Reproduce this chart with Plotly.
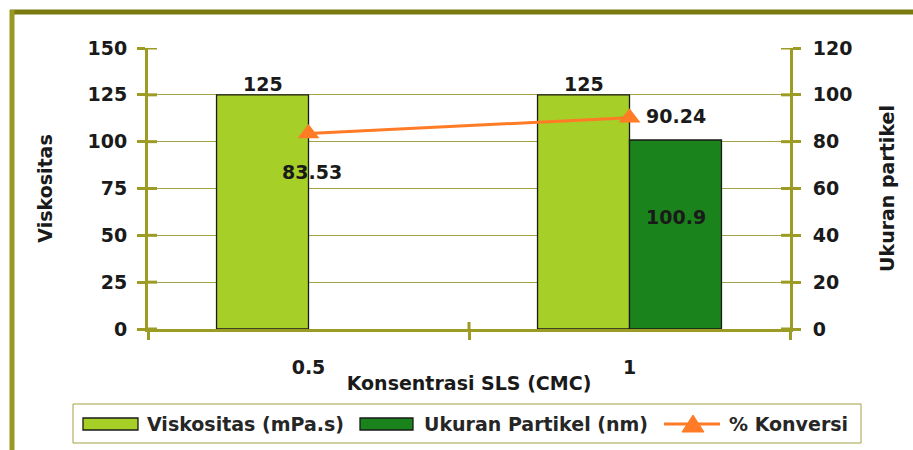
import plotly.graph_objects as go

# Data
konsentrasi = ["0.5", "1"]
viskositas = [125, 125]
ukuran_partikel = [None, 100.9]
konversi = [83.53, 90.24]
legend_labels = ["Viskositas (mPa.s)", "Ukuran Partikel (nm)", "% Konversi"]
y1_ticks = [0, 25, 50, 75, 100, 125, 150]
y2_ticks = [0, 20, 40, 60, 80, 100, 120]

OLIVE = "#9c9c24"
GRID = "#a3a348"
FONT = "DejaVu Sans"
TXT = "#1a1a1a"
C_VISK = "#a6cf28"
C_UKUR = "#1a831c"
C_KONV = "#ff7b25"

# Plot area in pixels (used for placing the frame and the legend)
W, H = 913, 450
L, R, T, B = 148, 123, 48, 121
PW, PH = W - L - R, H - T - B


def px(x):
    return (x - L) / PW


def py(y):
    return (H - B - y) / PH


fig = go.Figure()

fig.add_trace(go.Bar(
    x=konsentrasi, y=viskositas, name=legend_labels[0],
    marker=dict(color=C_VISK, line=dict(color="#1a1a1a", width=1.3)),
))
fig.add_trace(go.Bar(
    x=konsentrasi, y=ukuran_partikel, name=legend_labels[1],
    marker=dict(color=C_UKUR, line=dict(color="#1a1a1a", width=1.3)),
))
fig.add_trace(go.Scatter(
    x=konsentrasi, y=konversi, name=legend_labels[2], yaxis="y2",
    mode="lines+markers",
    line=dict(color=C_KONV, width=3),
    marker=dict(symbol="triangle-up", size=19, color=C_KONV),
    cliponaxis=False,
))

lab_font = dict(family=FONT, size=19, color=TXT, weight="bold")

# Value labels (category index used for x)
annotations = []
for i, v in enumerate(viskositas):
    annotations.append(dict(
        x=i, y=v, xref="x", yref="y", text=str(v), showarrow=False,
        xshift=-46, yshift=11, font=lab_font,
    ))
for i, v in enumerate(ukuran_partikel):
    if v is not None:
        annotations.append(dict(
            x=i, y=v, xref="x", yref="y", text=str(v), showarrow=False,
            xshift=46, yshift=-77, font=lab_font,
        ))
label_shift = [(3, -39), (46, 2)]
for i, (v, (dx, dy)) in enumerate(zip(konversi, label_shift)):
    annotations.append(dict(
        x=i, y=v, xref="x", yref="y2", text=f"{v:.2f}", showarrow=False,
        xshift=dx, yshift=dy, font=lab_font,
    ))

# Outer frame
shapes = [
    dict(type="line", xref="paper", yref="paper", x0=px(10), x1=px(930),
         y0=py(12), y1=py(12), line=dict(color="#7a7a10", width=5)),
    dict(type="line", xref="paper", yref="paper", x0=px(12), x1=px(12),
         y0=py(10), y1=py(460), line=dict(color="#999922", width=5)),
]

# Tick marks continue across the value axes into the plot area
for t in y1_ticks:
    shapes.append(dict(type="line", xref="paper", yref="y", x0=0, x1=px(L + 9),
                       y0=t, y1=t, line=dict(color=OLIVE, width=3)))
for t in y2_ticks:
    shapes.append(dict(type="line", xref="paper", yref="y2", x0=1,
                       x1=px(L + PW - 9), y0=t, y1=t,
                       line=dict(color=OLIVE, width=3)))
shapes.append(dict(type="line", xref="paper", yref="paper", x0=0.5, x1=0.5,
                   y0=0, y1=py(H - B - 7), line=dict(color=OLIVE, width=3)))

# Legend box, swatches and labels
leg_font = dict(family=FONT, size=19, color="#262626", weight="bold")
ly = 424
shapes.append(dict(type="rect", xref="paper", yref="paper",
                   x0=px(73), x1=px(861), y0=py(443), y1=py(404),
                   line=dict(color="#a0a040", width=1), fillcolor="white"))
for (x0, x1), col in [((83, 138), C_VISK), ((360, 413), C_UKUR)]:
    shapes.append(dict(type="rect", xref="paper", yref="paper",
                       x0=px(x0), x1=px(x1), y0=py(ly + 6), y1=py(ly - 6),
                       line=dict(color="#1a1a1a", width=1.3), fillcolor=col))
shapes.append(dict(type="line", xref="paper", yref="paper",
                   x0=px(664), x1=px(720), y0=py(ly), y1=py(ly),
                   line=dict(color=C_KONV, width=3)))
tri = (f"M {px(682)} {py(ly + 8)} L {px(704)} {py(ly + 8)} "
       f"L {px(693)} {py(ly - 9)} Z")
shapes.append(dict(type="path", xref="paper", yref="paper", path=tri,
                   fillcolor=C_KONV, line=dict(color=C_KONV, width=1)))
for xl, lab in zip([145, 422, 727], legend_labels):
    annotations.append(dict(
        x=px(xl), y=py(ly), xref="paper", yref="paper", text=lab,
        showarrow=False, xanchor="left", yanchor="middle", font=leg_font,
    ))

fig.update_layout(
    width=W, height=H,
    margin=dict(l=L, r=R, t=T, b=B),
    paper_bgcolor="white", plot_bgcolor="white",
    barmode="group", bargap=0.427, bargroupgap=0,
    font=dict(family=FONT, size=19, color=TXT),
    showlegend=False,
    xaxis=dict(
        type="category", showline=True, linecolor=OLIVE, linewidth=3,
        ticks="outside", tickson="boundaries", ticklen=8, tickwidth=3,
        tickcolor=OLIVE, ticklabelstandoff=19,
        tickfont=lab_font,
        title=dict(text="Konsentrasi SLS (CMC)", standoff=0, font=lab_font),
        automargin=False, showgrid=False,
    ),
    yaxis=dict(
        range=[0, 150], tickvals=y1_ticks, showline=True, linecolor=OLIVE,
        linewidth=3, ticks="outside", ticklen=8, tickwidth=3, tickcolor=OLIVE,
        ticklabelstandoff=6,
        showgrid=True, gridcolor=GRID, gridwidth=1, zeroline=False,
        tickfont=lab_font,
        title=dict(text="Viskositas", standoff=30, font=lab_font),
        automargin=False,
    ),
    yaxis2=dict(
        range=[0, 120], tickvals=y2_ticks, overlaying="y", side="right",
        showline=True, linecolor=OLIVE, linewidth=3,
        ticks="outside", ticklen=8, tickwidth=3, tickcolor=OLIVE,
        ticklabelstandoff=8, showgrid=False, zeroline=False,
        tickfont=lab_font,
        title=dict(text="Ukuran partikel", standoff=30, font=lab_font),
        automargin=False,
    ),
    annotations=annotations,
    shapes=shapes,
)

fig.write_html("out.html")
